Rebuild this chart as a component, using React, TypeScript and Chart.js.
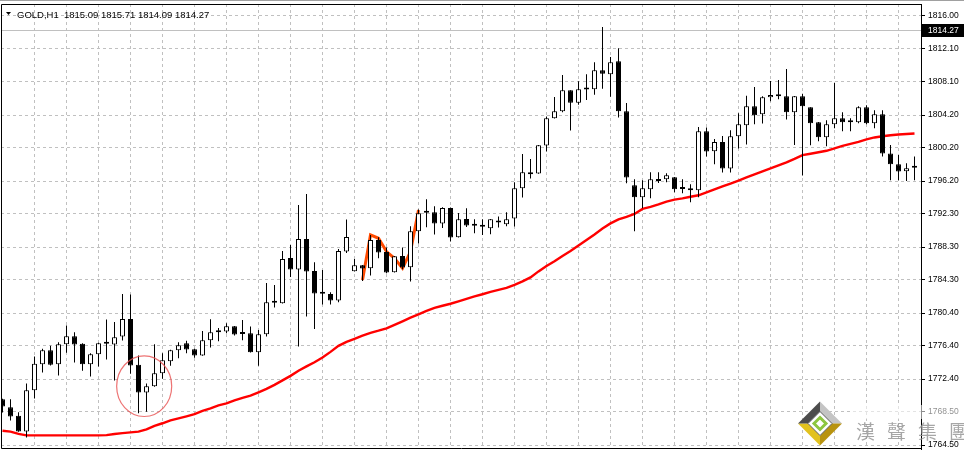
import React, { useEffect, useRef } from 'react';
import { Chart, registerables } from 'chart.js';

Chart.register(...registerables);

const symbolLabel = 'GOLD,H1';
const headerOHLC = ['1815.09', '1815.71', '1814.09', '1814.27'];
const bidPrice = 1814.27;
const bidLabel = '1814.27';

const opens = [
  1770.00, 1769.04, 1768.00, 1766.12, 1771.08, 1774.20, 1775.88, 1774.20, 1776.60, 1777.56,
  1776.64, 1774.20, 1775.40, 1776.68, 1776.56, 1777.52, 1779.64, 1774.12, 1770.80, 1771.56,
  1773.12, 1774.56, 1775.88, 1776.72, 1776.00, 1775.24, 1777.08, 1778.16, 1778.12, 1778.76,
  1777.88, 1777.92, 1775.64, 1777.80, 1781.58, 1781.52, 1786.96, 1785.56, 1789.24, 1785.40,
  1782.70, 1782.64, 1781.84, 1787.72, 1785.36, 1786.08, 1785.72, 1789.12, 1787.68, 1785.24,
  1787.20, 1785.84, 1790.16, 1792.38, 1792.44, 1791.08, 1792.96, 1789.44, 1791.64, 1790.86,
  1790.74, 1790.52, 1791.22, 1791.00, 1791.68, 1795.32, 1797.24, 1797.08, 1800.44, 1803.72,
  1804.56, 1807.08, 1805.60, 1807.18, 1807.20, 1809.48, 1809.00, 1810.56, 1804.56, 1795.68,
  1794.24, 1795.20, 1796.40, 1796.40, 1796.64, 1795.26, 1795.32, 1795.08, 1802.16, 1799.76,
  1800.88, 1797.68, 1801.56, 1802.88, 1805.16, 1804.20, 1806.24, 1806.52, 1806.36, 1804.44,
  1806.36, 1805.04, 1803.24, 1801.44, 1803.00, 1803.72, 1803.24, 1803.24, 1805.04, 1803.12,
  1804.20, 1799.50, 1798.20, 1797.36, 1797.78,
];
const highs = [
  1770.04, 1770.00, 1768.44, 1771.88, 1775.12, 1776.04, 1776.40, 1776.84, 1778.84, 1778.04,
  1776.70, 1775.52, 1776.76, 1779.56, 1779.28, 1782.64, 1782.56, 1775.24, 1771.88, 1776.60,
  1775.52, 1775.92, 1776.84, 1777.00, 1776.04, 1778.20, 1779.60, 1778.56, 1779.12, 1778.80,
  1779.52, 1778.72, 1778.32, 1783.96, 1783.72, 1787.80, 1788.52, 1793.32, 1794.64, 1786.44,
  1785.52, 1782.84, 1788.04, 1791.56, 1786.84, 1786.10, 1789.72, 1789.44, 1788.20, 1787.20,
  1788.20, 1790.76, 1792.76, 1794.00, 1793.16, 1793.04, 1793.00, 1792.36, 1792.92, 1791.60,
  1791.60, 1791.64, 1791.92, 1792.44, 1796.04, 1799.44, 1798.84, 1800.50, 1803.92, 1806.28,
  1808.92, 1807.10, 1808.16, 1809.00, 1810.44, 1814.68, 1811.08, 1812.12, 1805.56, 1796.40,
  1796.28, 1797.24, 1797.24, 1797.12, 1796.66, 1796.40, 1795.80, 1802.68, 1802.60, 1801.24,
  1801.60, 1802.28, 1804.32, 1806.44, 1807.48, 1806.36, 1808.20, 1808.32, 1809.64, 1806.40,
  1806.68, 1805.06, 1803.26, 1803.48, 1807.96, 1804.44, 1803.72, 1805.16, 1805.28, 1804.68,
  1804.68, 1800.52, 1799.32, 1798.32, 1799.12,
];
const lows = [
  1768.40, 1767.44, 1766.08, 1765.40, 1770.08, 1773.20, 1774.04, 1772.84, 1775.56, 1774.40,
  1773.40, 1772.72, 1773.92, 1774.76, 1772.24, 1777.04, 1773.04, 1768.32, 1768.48, 1771.48,
  1772.44, 1774.00, 1774.92, 1775.52, 1774.96, 1775.20, 1776.20, 1776.96, 1777.92, 1777.64,
  1777.08, 1775.60, 1774.00, 1777.52, 1781.00, 1781.50, 1784.68, 1776.32, 1779.92, 1778.44,
  1781.36, 1781.36, 1781.64, 1787.56, 1785.34, 1784.20, 1784.84, 1786.92, 1785.12, 1785.20,
  1785.60, 1784.12, 1788.68, 1790.64, 1789.76, 1790.56, 1788.92, 1789.42, 1790.68, 1789.92,
  1789.72, 1789.80, 1790.60, 1790.76, 1790.72, 1794.20, 1796.48, 1797.06, 1799.72, 1803.70,
  1804.44, 1802.24, 1805.36, 1805.92, 1806.56, 1807.28, 1806.32, 1803.80, 1795.92, 1790.16,
  1792.92, 1794.12, 1795.96, 1796.04, 1794.84, 1794.72, 1793.64, 1794.24, 1799.12, 1798.20,
  1797.20, 1797.20, 1800.08, 1800.56, 1803.00, 1803.08, 1805.76, 1806.00, 1803.56, 1800.52,
  1796.84, 1800.48, 1800.96, 1800.36, 1802.52, 1802.16, 1802.16, 1803.12, 1803.00, 1802.52,
  1799.12, 1796.28, 1796.28, 1796.20, 1796.28,
];
const closes = [
  1769.12, 1767.92, 1766.12, 1771.08, 1774.24, 1775.88, 1774.12, 1776.60, 1777.56, 1776.56,
  1774.20, 1775.40, 1776.72, 1776.64, 1777.44, 1779.64, 1774.04, 1770.80, 1771.56, 1773.12,
  1774.68, 1775.88, 1776.48, 1775.96, 1775.24, 1777.08, 1778.04, 1778.04, 1778.76, 1777.76,
  1777.84, 1775.64, 1777.80, 1781.64, 1781.62, 1786.84, 1785.56, 1789.24, 1785.32, 1782.68,
  1782.66, 1781.84, 1787.80, 1789.48, 1786.08, 1785.68, 1789.12, 1787.60, 1785.20, 1787.16,
  1785.80, 1790.16, 1792.32, 1792.42, 1791.08, 1792.96, 1789.40, 1791.60, 1790.84, 1790.82,
  1790.70, 1791.60, 1791.26, 1791.60, 1795.32, 1797.24, 1797.00, 1800.48, 1803.72, 1804.56,
  1807.08, 1805.60, 1807.20, 1807.22, 1809.48, 1809.08, 1810.44, 1804.56, 1796.60, 1794.24,
  1795.32, 1796.40, 1796.20, 1796.88, 1795.20, 1795.22, 1795.08, 1802.16, 1799.74, 1800.88,
  1797.68, 1801.56, 1803.00, 1805.16, 1804.08, 1806.24, 1806.52, 1806.36, 1804.44, 1806.36,
  1805.16, 1803.12, 1801.44, 1803.00, 1803.72, 1803.24, 1803.48, 1805.04, 1803.12, 1804.20,
  1799.50, 1798.20, 1797.32, 1797.72, 1797.82,
];
const movingAverage = [
  1766.21, 1766.10, 1765.84, 1765.66, 1765.66, 1765.66, 1765.66, 1765.66, 1765.66, 1765.66,
  1765.66, 1765.66, 1765.66, 1765.68, 1765.82, 1765.92, 1766.01, 1766.10, 1766.38, 1766.80,
  1767.11, 1767.46, 1767.70, 1767.94, 1768.20, 1768.60, 1768.90, 1769.26, 1769.50, 1769.86,
  1770.16, 1770.42, 1770.82, 1771.24, 1771.72, 1772.26, 1772.80, 1773.42, 1773.94, 1774.44,
  1775.00, 1775.68, 1776.40, 1776.88, 1777.24, 1777.62, 1777.96, 1778.22, 1778.51, 1778.92,
  1779.34, 1779.78, 1780.18, 1780.60, 1780.96, 1781.22, 1781.46, 1781.74, 1782.04, 1782.33,
  1782.60, 1782.88, 1783.12, 1783.36, 1783.72, 1784.14, 1784.62, 1785.34, 1786.00, 1786.56,
  1787.20, 1787.80, 1788.46, 1789.12, 1789.78, 1790.48, 1791.10, 1791.58, 1791.88, 1792.24,
  1792.84, 1793.08, 1793.38, 1793.72, 1793.96, 1794.10, 1794.30, 1794.48, 1794.82, 1795.18,
  1795.54, 1795.88, 1796.24, 1796.62, 1796.98, 1797.34, 1797.70, 1798.06, 1798.42, 1798.84,
  1799.30, 1799.46, 1799.64, 1799.82, 1800.10, 1800.40, 1800.64, 1800.88, 1801.18, 1801.42,
  1801.56, 1801.68, 1801.78, 1801.84, 1801.90,
];
const zigzagBars = [45, 46, 47, 48, 49, 50, 51, 52];
const zigzagPrices = [1784.32, 1789.72, 1789.32, 1787.72, 1786.92, 1785.72, 1787.72, 1792.72];

const yTickValues = [
  1816.0, 1812.038, 1808.077, 1804.115, 1800.154, 1796.192, 1792.231,
  1788.269, 1784.308, 1780.346, 1776.385, 1772.423, 1768.462, 1764.5,
];
const yTickLabels = [
  '1816.00', '1812.10', '1808.10', '1804.20', '1800.20', '1796.20', '1792.30',
  '1788.30', '1784.30', '1780.40', '1776.40', '1772.40', '1768.50', '1764.50',
];
const gridBarStep = 4;
const yMin = 1764.02;
const yMax = 1817.44;
const xMin = -0.1875;
const xMax = 114.8125;

const circleCenterBar = 17.71;
const circleCenterPrice = 1771.56;
const circleRadiusBars = 3.44;
const circleRadiusPrice = 3.64;
const watermarkChars = ['漢', '聲', '集', '團'];

function drawLogo(ctx: CanvasRenderingContext2D, cx: number, cy: number) {
  const R = 22;
  const r = 12;
  const outer = [[cx, cy - R], [cx + R, cy], [cx, cy + R], [cx - R, cy]];
  const inner = [[cx, cy - r], [cx + r, cy], [cx, cy + r], [cx - r, cy]];
  const facets = ['#c4c4c4', '#b8930f', '#e2c21e', '#4c4c4c'];
  for (let k = 0; k < 4; k++) {
    const a = outer[k];
    const b = outer[(k + 1) % 4];
    const c = inner[(k + 1) % 4];
    const d = inner[k];
    ctx.beginPath();
    ctx.moveTo(a[0], a[1]);
    ctx.lineTo(b[0], b[1]);
    ctx.lineTo(c[0], c[1]);
    ctx.lineTo(d[0], d[1]);
    ctx.closePath();
    ctx.fillStyle = facets[k];
    ctx.fill();
  }
  ctx.beginPath();
  inner.forEach((p, i) => (i ? ctx.lineTo(p[0], p[1]) : ctx.moveTo(p[0], p[1])));
  ctx.closePath();
  ctx.fillStyle = '#ffffff';
  ctx.fill();
  ctx.strokeStyle = '#555555';
  ctx.lineWidth = 1;
  ctx.stroke();
  const g = 6;
  ctx.beginPath();
  ctx.moveTo(cx, cy - g);
  ctx.lineTo(cx + g, cy);
  ctx.lineTo(cx, cy + g);
  ctx.lineTo(cx - g, cy);
  ctx.closePath();
  ctx.strokeStyle = '#8dc63f';
  ctx.lineWidth = 3;
  ctx.stroke();
}

const mtPlugin = {
  id: 'mtDecor',
  beforeDatasetsDraw(chart: any) {
    const { ctx, chartArea, scales } = chart;
    const y = Math.round(scales.y.getPixelForValue(bidPrice)) + 0.5;
    ctx.save();
    ctx.strokeStyle = '#c0c0c0';
    ctx.lineWidth = 1;
    ctx.beginPath();
    ctx.moveTo(chartArea.left, y);
    ctx.lineTo(chartArea.right, y);
    ctx.stroke();
    ctx.restore();
  },
  afterDatasetsDraw(chart: any) {
    const { ctx, scales } = chart;
    const cx = scales.x.getPixelForValue(circleCenterBar);
    const cy = scales.y.getPixelForValue(circleCenterPrice);
    const rx = Math.abs(scales.x.getPixelForValue(circleCenterBar + circleRadiusBars) - cx);
    const ry = Math.abs(scales.y.getPixelForValue(circleCenterPrice + circleRadiusPrice) - cy);
    ctx.save();
    ctx.strokeStyle = 'rgba(232, 80, 80, 0.8)';
    ctx.lineWidth = 1.2;
    ctx.beginPath();
    ctx.ellipse(cx, cy, rx, ry, 0, 0, Math.PI * 2);
    ctx.stroke();
    ctx.restore();
  },
  afterDraw(chart: any) {
    const { ctx, chartArea, scales } = chart;
    const W = chart.width;
    ctx.save();
    ctx.strokeStyle = '#a0a0a0';
    ctx.lineWidth = 1;
    ctx.beginPath();
    ctx.moveTo(0, 0.5);
    ctx.lineTo(W, 0.5);
    ctx.stroke();
    ctx.strokeStyle = '#000000';
    ctx.beginPath();
    ctx.moveTo(chartArea.left + 0.5, chartArea.top + 0.5);
    ctx.lineTo(chartArea.right + 0.5, chartArea.top + 0.5);
    ctx.lineTo(chartArea.right + 0.5, chartArea.bottom - 0.5);
    ctx.lineTo(chartArea.left + 0.5, chartArea.bottom - 0.5);
    ctx.closePath();
    ctx.stroke();

    ctx.fillStyle = '#000000';
    ctx.beginPath();
    ctx.moveTo(chartArea.left + 5, 12);
    ctx.lineTo(chartArea.left + 10, 12);
    ctx.lineTo(chartArea.left + 7.5, 15);
    ctx.closePath();
    ctx.fill();
    ctx.font = "9.5px 'Liberation Sans', Arial, sans-serif";
    ctx.textBaseline = 'alphabetic';
    ctx.textAlign = 'left';
    ctx.fillText(symbolLabel + '  ' + headerOHLC.join(' '), chartArea.left + 16, 17.5);

    const by = scales.y.getPixelForValue(bidPrice);
    ctx.fillStyle = '#000000';
    ctx.fillRect(chartArea.right + 1, Math.round(by) - 6, W - chartArea.right - 1, 13);
    ctx.fillStyle = '#ffffff';
    ctx.font = "8.5px 'Liberation Sans', Arial, sans-serif";
    ctx.textBaseline = 'middle';
    ctx.fillText(bidLabel, chartArea.right + 7, Math.round(by) + 0.5);

    ctx.fillStyle = 'rgba(255,255,255,0.55)';
    ctx.fillRect(chartArea.right - 68, chartArea.bottom - 44, W - chartArea.right + 68, 14);
    drawLogo(ctx, chartArea.right - 101, chartArea.bottom - 25.5);
    ctx.font = "19px 'Noto Sans CJK TC', 'Noto Sans CJK SC', sans-serif";
    ctx.textBaseline = 'alphabetic';
    ctx.fillStyle = 'rgba(150,150,150,0.85)';
    watermarkChars.forEach((ch, k) => {
      ctx.fillText(ch, chartArea.right - 65 + k * 31, chartArea.bottom - 10);
    });
    ctx.restore();
  },
};

export default function App() {
  const canvasRef = useRef<HTMLCanvasElement | null>(null);

  useEffect(() => {
    const canvas = canvasRef.current;
    if (!canvas) return;
    const n = opens.length;
    const idx = opens.map((_, i) => i);
    const wickData = idx.map((i) => ({ x: i, y: [lows[i], highs[i]] }));
    const bodyData = idx.map((i) => ({ x: i, y: [opens[i], closes[i]] }));
    const bodyColors = idx.map((i) => (closes[i] >= opens[i] ? '#ffffff' : '#000000'));
    const maData = idx.map((i) => ({ x: i, y: movingAverage[i] }));
    const zzData = zigzagBars.map((b, k) => ({ x: b, y: zigzagPrices[k] }));
    const gridTicks: number[] = [];
    for (let i = gridBarStep; i < n; i += gridBarStep) gridTicks.push(i);

    const chart = new Chart(canvas, {
      type: 'bar',
      data: {
        datasets: [
          {
            type: 'line',
            data: maData as any,
            borderColor: '#ff0000',
            borderWidth: 2.4,
            pointRadius: 0,
            tension: 0,
            order: 3,
          } as any,
          {
            type: 'line',
            data: zzData as any,
            borderColor: '#ff4a00',
            borderWidth: 3,
            pointRadius: 0,
            tension: 0,
            order: 2,
          } as any,
          {
            type: 'bar',
            data: wickData as any,
            backgroundColor: '#000000',
            borderWidth: 0,
            barThickness: 1,
            grouped: false,
            inflateAmount: 0,
            order: 1,
          } as any,
          {
            type: 'bar',
            data: bodyData as any,
            backgroundColor: bodyColors,
            borderColor: '#000000',
            borderWidth: 1,
            borderSkipped: false,
            barThickness: 5,
            minBarLength: 2,
            grouped: false,
            inflateAmount: 0,
            order: 0,
          } as any,
        ],
      },
      options: {
        animation: false,
        responsive: false,
        maintainAspectRatio: false,
        events: [],
        layout: { padding: { left: 1, right: 0, top: 4, bottom: 2 } },
        plugins: { legend: { display: false }, tooltip: { enabled: false } },
        scales: {
          x: {
            type: 'linear',
            min: xMin,
            max: xMax,
            offset: false,
            bounds: 'data',
            afterBuildTicks: (s: any) => {
              s.ticks = gridTicks.map((v) => ({ value: v }));
            },
            afterFit: (s: any) => {
              s.height = 0;
              s.paddingLeft = 0;
              s.paddingRight = 0;
            },
            ticks: { display: false },
            grid: { color: '#c0c0c0', lineWidth: 1, drawTicks: false, offset: false },
            border: { display: false, dash: [3, 3] },
          },
          y: {
            type: 'linear',
            position: 'right',
            min: yMin,
            max: yMax,
            bounds: 'data',
            afterBuildTicks: (s: any) => {
              s.ticks = yTickValues.map((v) => ({ value: v }));
            },
            afterFit: (s: any) => {
              s.width = 43;
              s.paddingTop = 0;
              s.paddingBottom = 0;
            },
            ticks: {
              autoSkip: false,
              padding: 3,
              color: '#000000',
              font: { family: "'Liberation Sans', Arial, sans-serif", size: 8.5 },
              callback: (_v: any, i: number) => yTickLabels[i],
            },
            grid: {
              color: '#c0c0c0',
              lineWidth: 1,
              drawTicks: true,
              tickLength: 4,
              tickColor: '#000000',
              tickBorderDash: [],
            },
            border: { display: true, color: '#000000', dash: [3, 3] },
          },
        },
      } as any,
      plugins: [mtPlugin],
    });
    return () => chart.destroy();
  }, []);

  return (
    <div style={{ position: 'absolute', left: 0, top: 0, width: 964, height: 451, background: '#ffffff' }}>
      <canvas ref={canvasRef} width={964} height={451} style={{ display: 'block' }} />
    </div>
  );
}
